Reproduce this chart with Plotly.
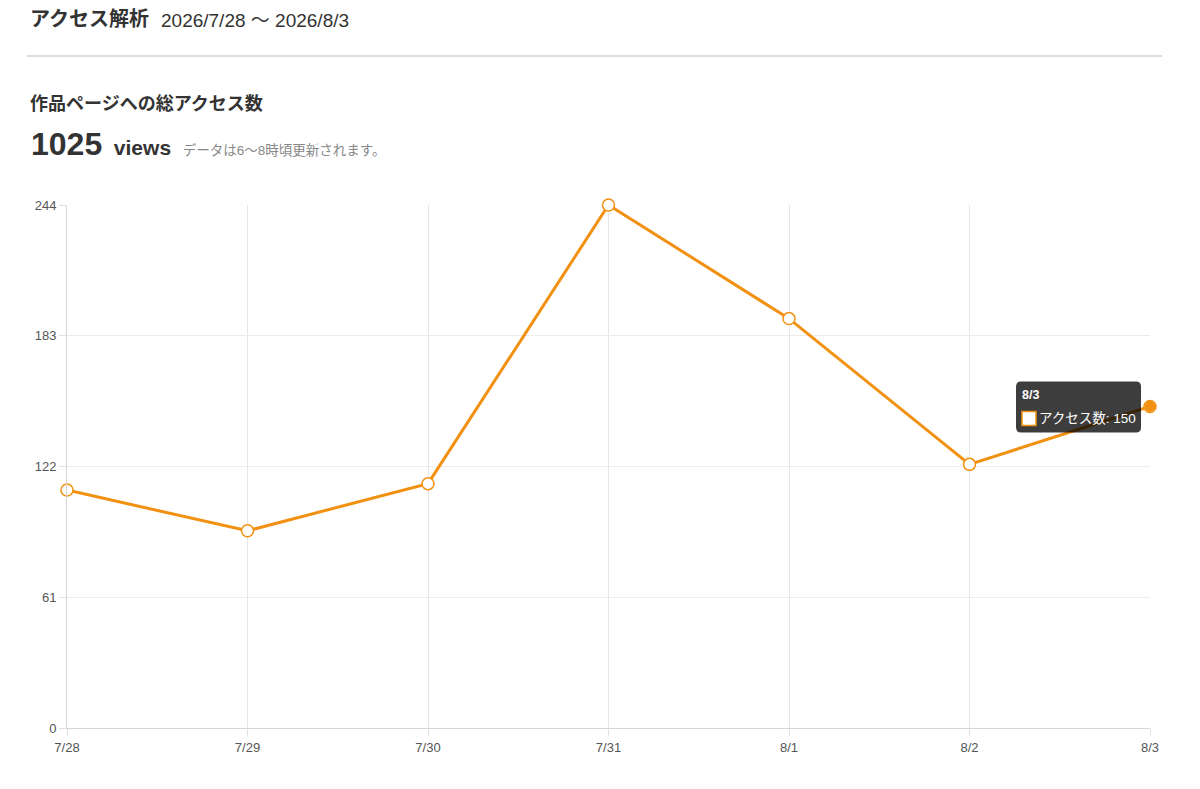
import plotly.graph_objects as go

dates = ["7/28", "7/29", "7/30", "7/31", "8/1", "8/2", "8/3"]
views = [111, 92, 114, 244, 191, 123, 150]
y_ticks = [0, 61, 122, 183, 244]
total_views = 1025
series_name = "アクセス数"

ORANGE = "#F29111"
FONT = "Liberation Sans, Noto Sans CJK JP, sans-serif"

OFF = 8  # page body margin
L, R, T, B = 67 - OFF, 1150 - OFF, 205 - OFF, 728 - OFF
FW, FH = 1200, 789
W, H = R - L, B - T
def px(x):
    return (x - OFF - L) / W
def py(y):
    return (B - (y - OFF)) / H

fig = go.Figure()
xs = list(range(len(dates)))
fig.add_trace(go.Scatter(
    x=xs, y=views, mode="lines+markers", name=series_name,
    line=dict(color=ORANGE, width=3),
    marker=dict(size=12, color="white", line=dict(color=ORANGE, width=1.5)),
    hoverinfo="skip", cliponaxis=False,
))
fig.add_trace(go.Scatter(
    x=[xs[-1]], y=[views[-1]], mode="markers",
    marker=dict(size=10, color=ORANGE, line=dict(color=ORANGE, width=1)),
    hoverinfo="skip", cliponaxis=False,
))

fig.update_layout(
    width=FW, height=FH,
    margin=dict(l=L, r=FW - R, t=T, b=FH - B),
    paper_bgcolor="white", plot_bgcolor="white",
    showlegend=False,
    font=dict(family=FONT, color="#555", size=13),
)
fig.update_xaxes(
    tickmode="array", tickvals=xs, ticktext=dates, range=[0, len(dates) - 1],
    showgrid=True, gridcolor="#e6e6e6", gridwidth=1,
    ticks="outside", ticklen=7, tickcolor="#e0e0e0",
    showline=True, linecolor="#d6d6d6", linewidth=1,
    zeroline=False, tickfont=dict(size=13, color="#555"),
)
fig.update_yaxes(
    tickmode="array", tickvals=y_ticks, range=[0, max(y_ticks)],
    showgrid=True, gridcolor="#ececec", gridwidth=1,
    ticks="outside", ticklen=7, tickcolor="#e0e0e0",
    showline=True, linecolor="#d6d6d6", linewidth=1,
    zeroline=False, tickfont=dict(size=13, color="#555"),
)

fig.add_shape(type="line", xref="paper", yref="paper",
              x0=px(27), x1=px(1162), y0=py(56), y1=py(56),
              line=dict(color="#dddddd", width=2))

ann = []
ann.append(dict(xref="paper", yref="paper", x=px(28), y=py(19), xanchor="left", yanchor="middle",
                text="<b>アクセス解析</b>", showarrow=False,
                font=dict(size=20, color="#333", family=FONT)))
ann.append(dict(xref="paper", yref="paper", x=px(159), y=py(20), xanchor="left", yanchor="middle",
                text=f"2026/{dates[0]} 〜 2026/{dates[-1]}", showarrow=False,
                font=dict(size=19, color="#333", family=FONT)))
ann.append(dict(xref="paper", yref="paper", x=px(28), y=py(104), xanchor="left", yanchor="middle",
                text="<b>作品ページへの総アクセス数</b>", showarrow=False,
                font=dict(size=18, color="#333", family=FONT)))
ann.append(dict(xref="paper", yref="paper", x=px(29), y=py(144), xanchor="left", yanchor="middle",
                text=(f"<b><span style='font-size:32px'>{total_views}</span>&nbsp; "
                      "<span style='font-size:21px'>views</span></b>  "
                      "<span style='font-size:13.5px;color:#888'>データは6〜8時頃更新されます。</span>"),
                showarrow=False, font=dict(size=21, color="#333", family=FONT)))

xa, ya = xs[-1], views[-1]
x0, x1 = -134, -9
y0, y1 = -26, 25
r = 5
path = (f"M {x0+r},{y1} L {x1-r},{y1} Q {x1},{y1} {x1},{y1-r} "
        f"L {x1},{y0+r} Q {x1},{y0} {x1-r},{y0} L {x0+r},{y0} "
        f"Q {x0},{y0} {x0},{y0+r} L {x0},{y1-r} Q {x0},{y1} {x0+r},{y1} Z")
fig.add_shape(type="path", xref="x", yref="y", xsizemode="pixel", ysizemode="pixel",
              xanchor=xa, yanchor=ya, path=path,
              fillcolor="rgba(0,0,0,0.76)", line=dict(width=0), layer="above")
fig.add_shape(type="rect", xref="x", yref="y", xsizemode="pixel", ysizemode="pixel",
              xanchor=xa, yanchor=ya, x0=-128, x1=-114, y0=-19, y1=-5,
              fillcolor="white", line=dict(color=ORANGE, width=1.5), layer="above")
ann.append(dict(xref="x", yref="y", x=xa, y=ya, xanchor="left", yanchor="middle",
                xshift=-130, yshift=11, text=f"<b>{dates[-1]}</b>", showarrow=False,
                font=dict(size=12.5, color="white", family=FONT)))
ann.append(dict(xref="x", yref="y", x=xa, y=ya, xanchor="left", yanchor="middle",
                xshift=-113, yshift=-12, text=f"{series_name}: {views[-1]}", showarrow=False,
                font=dict(size=13.5, color="white", family=FONT)))
fig.update_layout(annotations=ann)

fig.write_html("out.html")
